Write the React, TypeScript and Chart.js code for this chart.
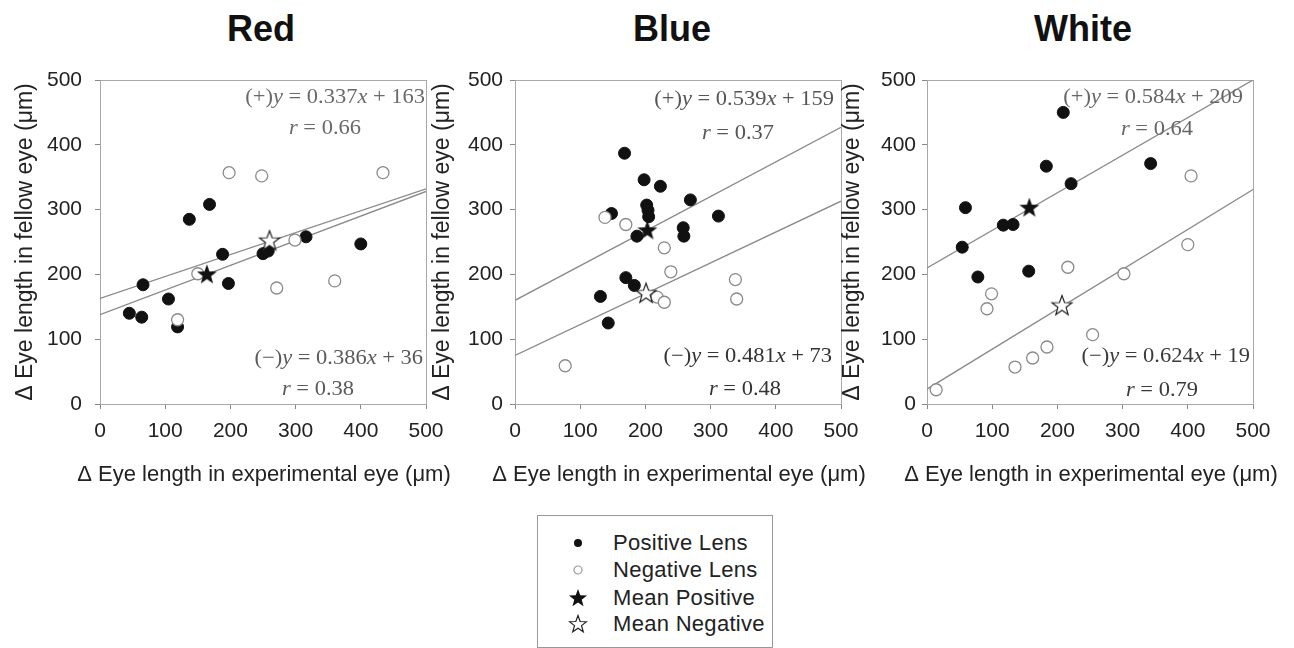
import React, { useEffect, useRef } from 'react';
import { Chart, registerables } from 'chart.js';

Chart.register(...registerables);

// ---------- data ----------
const LINE_X = [0, 500];

const redPosX = [45, 64, 66, 105, 119, 137, 168, 188, 197, 250, 258, 316, 400];
const redPosY = [140, 134, 184, 162, 119, 285, 308, 231, 186, 232, 236, 258, 247];
const redNegX = [119, 150, 198, 248, 271, 299, 360, 434];
const redNegY = [130, 201, 357, 352, 179, 253, 190, 357];
const redMeanPos = [164, 200];
const redMeanNeg = [260, 252];
const redPosLine = [163, 332];
const redNegLine = [138, 328];
const redLabels = ['(+)y = 0.337x + 163', 'r = 0.66', '(\u2212)y = 0.386x + 36', 'r = 0.38'];

const bluePosX = [168, 198, 223, 269, 202, 204, 205, 148, 312, 258, 259, 187, 170, 183, 131, 143];
const bluePosY = [387, 346, 336, 315, 307, 299, 289, 294, 290, 272, 259, 259, 195, 183, 166, 125];
const blueNegX = [138, 170, 229, 239, 218, 229, 338, 340, 77];
const blueNegY = [288, 277, 241, 204, 165, 157, 192, 162, 59];
const blueMeanPos = [203, 268];
const blueMeanNeg = [201, 171];
const bluePosLine = [160, 427];
const blueNegLine = [75, 313];
const blueLabels = ['(+)y = 0.539x + 159', 'r = 0.37', '(\u2212)y = 0.481x + 73', 'r = 0.48'];

const whitePosX = [209, 183, 343, 221, 59, 117, 132, 54, 78, 156];
const whitePosY = [450, 367, 371, 340, 303, 276, 277, 242, 196, 205];
const whiteNegX = [405, 400, 216, 302, 99, 92, 254, 184, 162, 135, 14];
const whiteNegY = [352, 246, 211, 201, 170, 147, 107, 88, 71, 57, 22];
const whiteMeanPos = [157, 303];
const whiteMeanNeg = [207, 152];
const whitePosLine = [210, 500];
const whiteNegLine = [23, 331];
const whiteLabels = ['(+)y = 0.584x + 209', 'r = 0.64', '(\u2212)y = 0.624x + 19', 'r = 0.79'];

const panelTitles = ['Red', 'Blue', 'White'];
const xTitle = '\u0394 Eye length in experimental eye (\u03bcm)';
const yTitle = '\u0394 Eye length in fellow eye (\u03bcm)';
const legendLabels = ['Positive Lens', 'Negative Lens', 'Mean Positive', 'Mean Negative'];

// ---------- styling / layout ----------
const SANS = '"Liberation Sans", Arial, sans-serif';
const SERIF = '"Liberation Serif", "Times New Roman", serif';

type LabelPos = { dx: number; dy: number; align: 'right' | 'center' };

const panels = [
  {
    title: panelTitles[0], titleCenter: 261,
    left: 0, width: 470, yWidth: 100, yTitlePad: 12, yTickPad: 13,
    posX: redPosX, posY: redPosY, negX: redNegX, negY: redNegY,
    meanPos: redMeanPos, meanNeg: redMeanNeg, posLine: redPosLine, negLine: redNegLine,
    labels: redLabels, labelColor: ['#6a6a6a', '#6a6a6a', '#5a5a5a', '#5a5a5a'],
    labelPos: [
      { dx: 325, dy: 17, align: 'right' }, { dx: 225, dy: 48, align: 'center' },
      { dx: 323, dy: 278, align: 'right' }, { dx: 218, dy: 309, align: 'center' },
    ] as LabelPos[],
  },
  {
    title: panelTitles[1], titleCenter: 672,
    left: 425, width: 455, yWidth: 90, yTitlePad: 4, yTickPad: 7,
    posX: bluePosX, posY: bluePosY, negX: blueNegX, negY: blueNegY,
    meanPos: blueMeanPos, meanNeg: blueMeanNeg, posLine: bluePosLine, negLine: blueNegLine,
    labels: blueLabels, labelColor: ['#555', '#555', '#333', '#333'],
    labelPos: [
      { dx: 319, dy: 19, align: 'right' }, { dx: 223, dy: 53, align: 'center' },
      { dx: 317, dy: 276, align: 'right' }, { dx: 230, dy: 309, align: 'center' },
    ] as LabelPos[],
  },
  {
    title: panelTitles[2], titleCenter: 1083,
    left: 835, width: 459, yWidth: 92, yTitlePad: 4, yTickPad: 6,
    posX: whitePosX, posY: whitePosY, negX: whiteNegX, negY: whiteNegY,
    meanPos: whiteMeanPos, meanNeg: whiteMeanNeg, posLine: whitePosLine, negLine: whiteNegLine,
    labels: whiteLabels, labelColor: ['#666', '#666', '#3a3a3a', '#3a3a3a'],
    labelPos: [
      { dx: 316, dy: 17, align: 'right' }, { dx: 230, dy: 49, align: 'center' },
      { dx: 323, dy: 276, align: 'right' }, { dx: 235, dy: 310, align: 'center' },
    ] as LabelPos[],
  },
];

function starPath(ctx: CanvasRenderingContext2D, cx: number, cy: number, R: number, r: number) {
  ctx.beginPath();
  for (let i = 0; i < 10; i++) {
    const a = -Math.PI / 2 + (i * Math.PI) / 5;
    const rad = i % 2 === 0 ? R : r;
    const px = cx + rad * Math.cos(a);
    const py = cy + rad * Math.sin(a);
    if (i === 0) ctx.moveTo(px, py);
    else ctx.lineTo(px, py);
  }
  ctx.closePath();
}

function makeStar(filled: boolean): HTMLCanvasElement {
  const c = document.createElement('canvas');
  c.width = 24;
  c.height = 24;
  const ctx = c.getContext('2d')!;
  starPath(ctx, 12, 12.5, 10.5, 4.3);
  if (filled) {
    ctx.fillStyle = '#111';
    ctx.fill();
  } else {
    ctx.fillStyle = '#fff';
    ctx.fill();
    ctx.strokeStyle = '#222';
    ctx.lineWidth = 1.2;
    ctx.stroke();
  }
  return c;
}

const EQ_STRETCH = 1.07;

function drawRich(ctx: CanvasRenderingContext2D, text: string, x: number, y: number, align: string, color: string) {
  const size = 21;
  const normal = `${size}px ${SERIF}`;
  const italic = `italic ${size}px ${SERIF}`;
  const segs: { t: string; it: boolean }[] = [];
  for (const ch of text) {
    const it = /[xyr]/.test(ch);
    const last = segs[segs.length - 1];
    if (last && last.it === it) last.t += ch;
    else segs.push({ t: ch, it });
  }
  let total = 0;
  const widths = segs.map((s) => {
    ctx.font = s.it ? italic : normal;
    const w = ctx.measureText(s.t).width;
    total += w;
    return w;
  });
  const shown = total * EQ_STRETCH;
  const startX = align === 'right' ? x - shown : align === 'center' ? x - shown / 2 : x;
  ctx.save();
  ctx.translate(startX, y);
  ctx.scale(EQ_STRETCH, 1);
  ctx.fillStyle = color;
  ctx.textBaseline = 'middle';
  ctx.textAlign = 'left';
  let cx = 0;
  segs.forEach((s, i) => {
    ctx.font = s.it ? italic : normal;
    ctx.fillText(s.t, cx, 0);
    cx += widths[i];
  });
  ctx.restore();
}

const framePlugin = {
  id: 'frameBox',
  beforeDatasetsDraw(chart: any) {
    const { ctx, chartArea } = chart;
    ctx.save();
    ctx.strokeStyle = '#a8a8a8';
    ctx.lineWidth = 1;
    ctx.strokeRect(chartArea.left + 0.5, chartArea.top + 0.5, chartArea.right - chartArea.left, chartArea.bottom - chartArea.top);
    ctx.restore();
  },
};

const eqPlugin = {
  id: 'eqLabels',
  afterDraw(chart: any, _args: any, opts: any) {
    const { ctx, chartArea } = chart;
    ctx.save();
    (opts.items || []).forEach((it: any) => {
      drawRich(ctx, it.text, chartArea.left + it.dx, chartArea.top + it.dy, it.align, it.color);
    });
    // x axis title drawn at natural width (Chart.js would squeeze it to the axis width)
    ctx.font = `22px ${SANS}`;
    ctx.fillStyle = '#222';
    ctx.textBaseline = 'middle';
    ctx.textAlign = 'center';
    ctx.fillText(opts.xTitle, (chartArea.left + chartArea.right) / 2 + 1, chartArea.bottom + 71);
    ctx.restore();
  },
};

function Panel({ p }: { p: (typeof panels)[number] }) {
  const ref = useRef<HTMLCanvasElement>(null);
  useEffect(() => {
    if (!ref.current) return;
    const filledStar = makeStar(true);
    const openStar = makeStar(false);
    const tickFont = { family: SANS, size: 21 };
    const titleFont = { family: SANS, size: 23 };
    const chart = new Chart(ref.current, {
      type: 'scatter',
      data: {
        datasets: [
          {
            label: 'Mean Positive',
            data: [{ x: p.meanPos[0], y: p.meanPos[1] }],
            pointStyle: filledStar as any,
            pointRadius: 10,
            order: 0,
          },
          {
            label: 'Mean Negative',
            data: [{ x: p.meanNeg[0], y: p.meanNeg[1] }],
            pointStyle: openStar as any,
            pointRadius: 10,
            order: 0,
          },
          {
            label: 'Negative Lens',
            data: p.negX.map((x, i) => ({ x, y: p.negY[i] })),
            pointRadius: 6,
            pointBackgroundColor: '#fff',
            pointBorderColor: '#8a8a8a',
            pointBorderWidth: 1.3,
            order: 1,
          },
          {
            label: 'Positive Lens',
            data: p.posX.map((x, i) => ({ x, y: p.posY[i] })),
            pointRadius: 6,
            pointBackgroundColor: '#111',
            pointBorderColor: '#111',
            pointBorderWidth: 1,
            order: 2,
          },
          {
            label: 'Fit positive',
            data: LINE_X.map((x, i) => ({ x, y: p.posLine[i] })),
            showLine: true,
            pointRadius: 0,
            borderColor: '#8a8a8a',
            borderWidth: 1.3,
            order: 3,
          },
          {
            label: 'Fit negative',
            data: LINE_X.map((x, i) => ({ x, y: p.negLine[i] })),
            showLine: true,
            pointRadius: 0,
            borderColor: '#8a8a8a',
            borderWidth: 1.3,
            order: 3,
          },
        ] as any,
      },
      options: {
        animation: false,
        responsive: false,
        events: [],
        layout: { padding: { left: 0, top: 80, right: p.width - p.yWidth - 326, bottom: 0 } },
        plugins: {
          legend: { display: false },
          tooltip: { enabled: false },
          title: { display: false },
          eqLabels: {
            items: p.labels.map((t, i) => ({ text: t, ...p.labelPos[i], color: p.labelColor[i] })),
            xTitle,
          },
        } as any,
        scales: {
          x: {
            type: 'linear',
            min: 0,
            max: 500,
            ticks: { stepSize: 100, color: '#222', font: tickFont, padding: 10 },
            grid: { drawOnChartArea: false, drawTicks: true, tickLength: 5, color: '#888' },
            border: { color: '#888' },
            title: { display: false },
            afterFit: (s: any) => {
              s.height = 96;
            },
          },
          y: {
            type: 'linear',
            min: 0,
            max: 500,
            ticks: { stepSize: 100, color: '#222', font: tickFont, padding: p.yTickPad },
            grid: { drawOnChartArea: false, drawTicks: true, tickLength: 5, color: '#888' },
            border: { color: '#888' },
            title: { display: true, text: yTitle, color: '#222', font: titleFont, padding: { top: p.yTitlePad, bottom: 0 } },
            afterFit: (s: any) => {
              s.width = p.yWidth;
            },
          },
        },
      },
      plugins: [framePlugin, eqPlugin],
    });
    return () => chart.destroy();
  }, [p]);
  return (
    <canvas
      ref={ref}
      width={p.width}
      height={500}
      style={{ position: 'absolute', left: p.left, top: 0, width: p.width, height: 500 }}
    />
  );
}

function svgStar(cx: number, cy: number, R: number, r: number) {
  const pts: string[] = [];
  for (let i = 0; i < 10; i++) {
    const a = -Math.PI / 2 + (i * Math.PI) / 5;
    const rad = i % 2 === 0 ? R : r;
    pts.push(`${(cx + rad * Math.cos(a)).toFixed(2)},${(cy + rad * Math.sin(a)).toFixed(2)}`);
  }
  return pts.join(' ');
}

function Legend() {
  const markers = [
    <circle cx={10} cy={10} r={4} fill="#111" />,
    <circle cx={10} cy={10} r={4} fill="#fff" stroke="#999" strokeWidth={1.2} />,
    <polygon points={svgStar(10, 10.5, 9.5, 3.9)} fill="#111" />,
    <polygon points={svgStar(10, 10.5, 9, 3.7)} fill="#fff" stroke="#222" strokeWidth={1.2} />,
  ];
  const rowY = [27, 54, 82, 108];
  return (
    <div
      style={{
        position: 'absolute',
        left: 537,
        top: 515,
        width: 234,
        height: 131,
        border: '1px solid #999',
        background: '#fff',
      }}
    >
      {legendLabels.map((lab, i) => (
        <React.Fragment key={lab}>
          <svg width={20} height={20} style={{ position: 'absolute', left: 30, top: rowY[i] - 10 }}>
            {markers[i]}
          </svg>
          <div
            style={{
              position: 'absolute',
              left: 75,
              top: rowY[i] - 13,
              height: 26,
              lineHeight: '26px',
              fontFamily: SANS,
              fontSize: 22,
              letterSpacing: 0.3,
              color: '#222',
              whiteSpace: 'nowrap',
            }}
          >
            {lab}
          </div>
        </React.Fragment>
      ))}
    </div>
  );
}

export default function App() {
  return (
    <div style={{ position: 'absolute', left: 0, top: 0, width: 1294, height: 648, background: '#fff', overflow: 'hidden' }}>
      {panels.map((p) => (
        <div
          key={p.title + 't'}
          style={{
            position: 'absolute',
            left: p.titleCenter - 100,
            top: 11,
            width: 200,
            textAlign: 'center',
            fontFamily: SANS,
            fontWeight: 'bold',
            fontSize: 36,
            lineHeight: '36px',
            color: '#111',
          }}
        >
          {p.title}
        </div>
      ))}
      {panels.map((p) => (
        <Panel key={p.title} p={p} />
      ))}
      <Legend />
    </div>
  );
}
